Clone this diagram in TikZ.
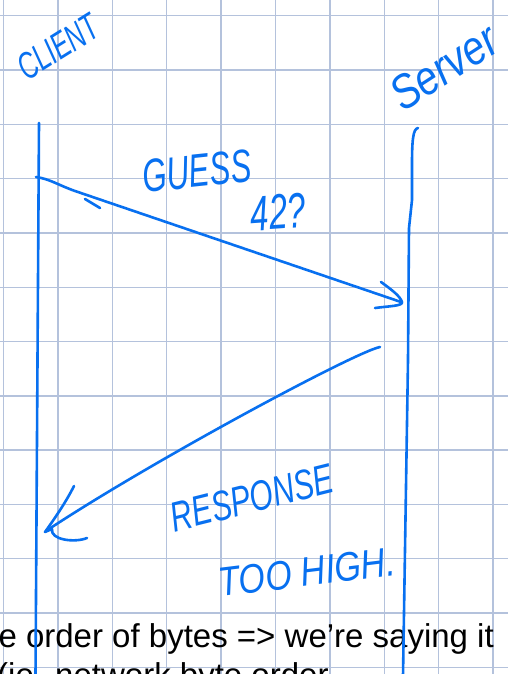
\documentclass[tikz,border=0pt]{standalone}
\usepackage{fontspec}
\setmainfont{Liberation Sans}
\newfontfamily\handfont{Liberation Sans}
\definecolor{ink}{RGB}{8,112,240}
\definecolor{papergrid}{RGB}{180,194,220}
\tikzset{
  pen/.style={draw=ink,line width=2.6pt,line cap=round,line join=round},
  hand/.style={text=ink,inner sep=0pt,transform shape},
  note/.style={text=black,inner sep=0pt,font=\fontsize{33}{39}\selectfont},
  gridline/.style={draw=papergrid,line width=1.4pt}
}
\begin{document}
\begin{tikzpicture}[x=1pt,y=-1pt]
  \useasboundingbox (0,0) rectangle (508,674);
  \clip (0,0) rectangle (508,674);
  \fill[white] (0,0) rectangle (508,674);
  \foreach \i in {0,...,9}
    \draw[gridline] ({3.5+54.4*\i},0) -- ({3.5+54.4*\i},674);
  \foreach \j in {0,...,12}
    \draw[gridline] (0,{15.7+54.3*\j}) -- (508,{15.7+54.3*\j});

  \node[note,anchor=base east] (line one) at (494,647) {e order of bytes => we’re saying it};
  \node[note,anchor=base west] (line two) at (-3,686) {(ie. network byte order};

  \coordinate (client top) at (39,123);
  \coordinate (client bot) at (35.5,676);
  \coordinate (server top) at (418,128);
  \coordinate (server bot) at (403,676);
  \coordinate (guess from) at (36,177);
  \coordinate (guess to) at (401,302);
  \coordinate (resp from) at (380,347);
  \coordinate (resp to) at (46,531);

  \node[hand,rotate=32,yscale=1.5,font=\handfont\itshape\fontsize{25}{30}\selectfont] (client) at (58,47) {CLIENT};
  \node[hand,rotate=33,yscale=1.2,font=\handfont\itshape\fontsize{40}{44}\selectfont] (server) at (444,67) {Server};
  \node[hand,rotate=6,yscale=1.5,font=\handfont\itshape\fontsize{31}{36}\selectfont] (guess) at (197,171) {GUESS};
  \node[hand,rotate=4,yscale=1.5,font=\handfont\itshape\fontsize{33}{36}\selectfont] (num) at (278,212) {42?};
  \node[hand,rotate=14,yscale=1.4,font=\handfont\itshape\fontsize{30}{36}\selectfont] (resp) at (252,498) {RESPONSE};
  \node[hand,rotate=7,yscale=1.2,font=\handfont\itshape\fontsize{34}{38}\selectfont] (high) at (307,572) {TOO HIGH.};

  \draw[pen] (client top) -- (client bot);
  \draw[pen] (server top) .. controls (413,129) and (412,140) .. (412,165) -- (412,200) -- (409,228) -- (408,360) -- (server bot);

  \draw[pen] (guess from) .. controls (50,179) and (58,185) .. (75,191) -- (guess to);
  \draw[pen] (381,282) .. controls (392,290) and (400,296) .. (402,302) .. controls (403,306) and (390,306) .. (375,308);
  \draw[pen] (85,199) -- (100,208);

  \draw[pen] (resp from) .. controls (355,352) and (150,462) .. (resp to);
  \draw[pen] (74,486) .. controls (66,502) and (55,518) .. (45,532) -- (52,529) .. controls (50,540) and (75,543) .. (87,538);
\end{tikzpicture}
\end{document}
